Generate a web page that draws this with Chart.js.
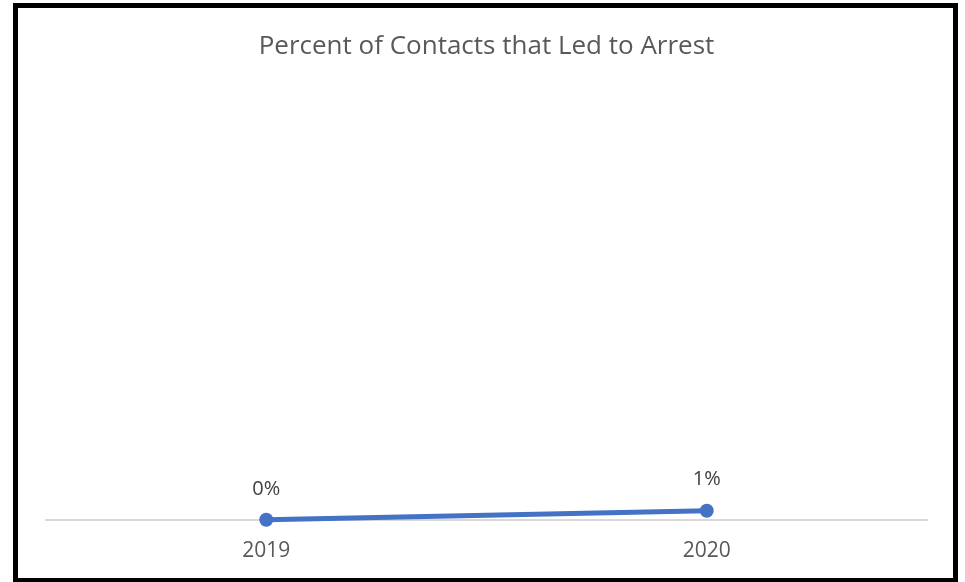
<!DOCTYPE html>
<html lang="en">
<head>
    <meta charset="UTF-8">
    <title>Percent of Contacts that Led to Arrest</title>
    <script src="https://cdn.jsdelivr.net/npm/chart.js"></script>
    <style>
        body { margin: 0; background: #fff; }
        #box {
            position: absolute; left: 13px; top: 3px;
            width: 935px; height: 570px; overflow: hidden;
            border: 5px solid #000; background: #fff;
        }
    </style>
</head>
<body>
    <div id="box"><canvas id="arrestChart" width="935" height="576"></canvas></div>

    <script>
        const years = ['2019', '2020'];
        const arrestPct = [0, 1];       // percent of contacts
        const pctLabels = ['0%', '1%'];

        const fontFam = '"Open Sans", Lato, sans-serif';

        // draws the value above each point
        const valueLabels = {
            id: 'valueLabels',
            afterDatasetsDraw(chart) {
                const ctx = chart.ctx;
                const meta = chart.getDatasetMeta(0);
                ctx.save();
                ctx.font = '20px ' + fontFam;
                ctx.fillStyle = '#404040';
                ctx.textAlign = 'center';
                ctx.textBaseline = 'middle';
                meta.data.forEach((pt, i) => {
                    ctx.fillText(pctLabels[i], pt.x, pt.y - 31);
                });
                ctx.restore();
            }
        };

        new Chart(document.getElementById('arrestChart').getContext('2d'), {
            type: 'line',
            data: {
                labels: years,
                datasets: [{
                    data: arrestPct,
                    borderColor: '#4472C4',
                    backgroundColor: '#4472C4',
                    borderWidth: 5,
                    pointRadius: 7,
                    pointBorderWidth: 0,
                    fill: false,
                    tension: 0,
                    clip: false
                }]
            },
            options: {
                responsive: false,
                animation: false,
                layout: { padding: { left: 28, right: 26, top: 3, bottom: 1 } },
                plugins: {
                    legend: { display: false },
                    tooltip: { enabled: false },
                    title: {
                        display: true,
                        text: 'Percent of Contacts that Led to Arrest',
                        color: '#595959',
                        font: { family: fontFam, size: 26, weight: 'normal' },
                        padding: { top: 20, bottom: 38 }
                    }
                },
                scales: {
                    x: {
                        offset: true,
                        grid: { display: false, drawTicks: false },
                        border: { color: '#d9d9d9', width: 2 },
                        ticks: {
                            color: '#595959',
                            padding: 19,
                            font: { family: fontFam, size: 21 }
                        }
                    },
                    y: { display: false, min: 0, max: 46 }
                }
            },
            plugins: [valueLabels]
        });
    </script>
</body>
</html>
